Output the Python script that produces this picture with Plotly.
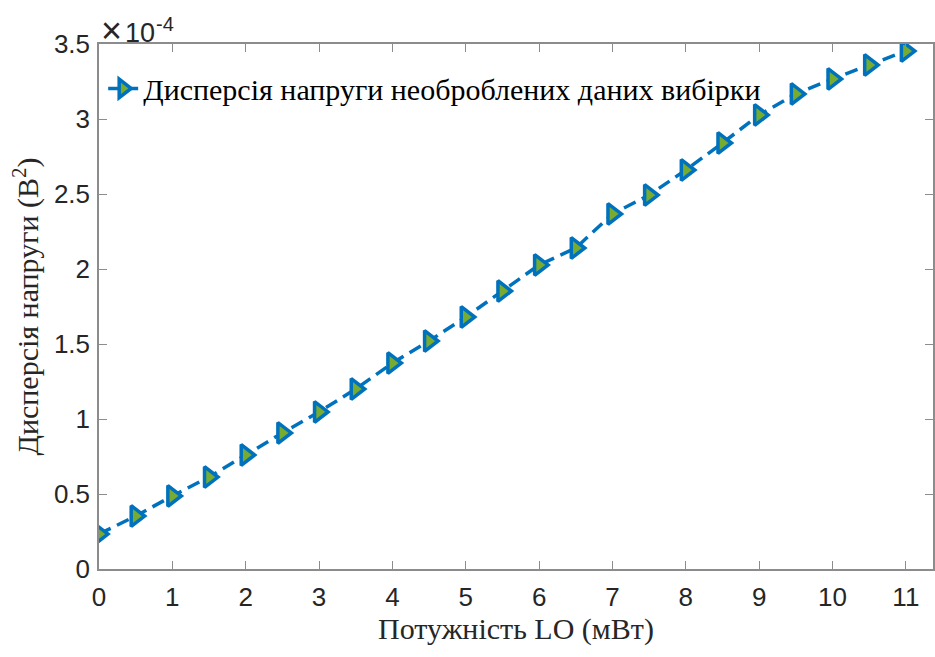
import plotly.graph_objects as go

# LO power (mW) and measured raw-sample voltage variance (units of 1e-4 V^2)
lo_power = [0, 0.5, 1, 1.5, 2, 2.5, 3, 3.5, 4, 4.5, 5, 5.5, 6, 6.5, 7, 7.5,
            8, 8.5, 9, 9.5, 10, 10.5, 11]
variance_e4 = [0.233, 0.353, 0.487, 0.613, 0.76, 0.907, 1.047, 1.2, 1.373,
               1.52, 1.68, 1.853, 2.027, 2.14, 2.367, 2.493, 2.66, 2.84,
               3.027, 3.167, 3.267, 3.36, 3.453]
SCALE = 1e-4

x_ticks = list(range(0, 12))
y_ticks_e4 = [0, 0.5, 1, 1.5, 2, 2.5, 3, 3.5]
y_tick_text = ["0", "0.5", "1", "1.5", "2", "2.5", "3", "3.5"]

series_name = "Дисперсія напруги необроблених даних вибірки"
x_title = "Потужність LO (мВт)"
y_title = "Дисперсія напруги (В<sup>2</sup>)"

BLUE = "#0072BD"
GREEN = "#77AC30"
AXIS = "#8c8c8c"
SANS = "Liberation Sans, Arial, sans-serif"
SERIF = "Liberation Serif, Times New Roman, serif"

fig = go.Figure()
fig.add_trace(go.Scatter(
    x=lo_power,
    y=[v * SCALE for v in variance_e4],
    mode="lines+markers",
    name=series_name,
    line=dict(color=BLUE, width=3.5, dash="13px,7px"),
    marker=dict(symbol="triangle-right", size=18, color=GREEN,
                line=dict(color=BLUE, width=3.5)),
))

axis_common = dict(
    showgrid=False, zeroline=False, showline=True, linecolor=AXIS,
    linewidth=1.5, mirror="ticks", ticks="inside", ticklen=8,
    tickcolor=AXIS, tickwidth=1.2,
    tickfont=dict(family=SANS, size=26, color="#262626"),
)

fig.update_xaxes(
    range=[0, 11.37], tickvals=x_ticks, ticklabelstandoff=4,
    title=dict(text=x_title, font=dict(family=SERIF, size=30, color="#262626"),
               standoff=4),
    **axis_common,
)
fig.update_yaxes(
    range=[0, 3.5 * SCALE],
    tickvals=[v * SCALE for v in y_ticks_e4], ticktext=y_tick_text,
    ticklabelstandoff=2,
    title=dict(text=y_title, font=dict(family=SERIF, size=30, color="#262626"),
               standoff=6),
    **axis_common,
)

# axis multiplier: large "×", then "10" with a raised exponent
fig.add_annotation(
    text="×", xref="paper", yref="paper", x=0.0, y=1.0,
    xanchor="left", yanchor="bottom", showarrow=False, xshift=0, yshift=-9,
    font=dict(family=SANS, size=36, color="#262626"),
)
fig.add_annotation(
    text="10", xref="paper", yref="paper", x=0.0, y=1.0,
    xanchor="left", yanchor="bottom", showarrow=False, xshift=24, yshift=-6,
    font=dict(family=SANS, size=27, color="#262626"),
)
fig.add_annotation(
    text="-4", xref="paper", yref="paper", x=0.0, y=1.0,
    xanchor="left", yanchor="bottom", showarrow=False, xshift=55, yshift=7,
    font=dict(family=SANS, size=20, color="#262626"),
)

fig.update_layout(
    width=935, height=657,
    margin=dict(l=99, r=0, t=44, b=88),
    paper_bgcolor="white", plot_bgcolor="white",
    showlegend=True,
    legend=dict(x=0.005, y=0.965, xanchor="left", yanchor="top",
                bgcolor="rgba(0,0,0,0)",
                font=dict(family=SERIF, size=30, color="black"),
                itemwidth=30),
)

fig.write_html("out.html")
